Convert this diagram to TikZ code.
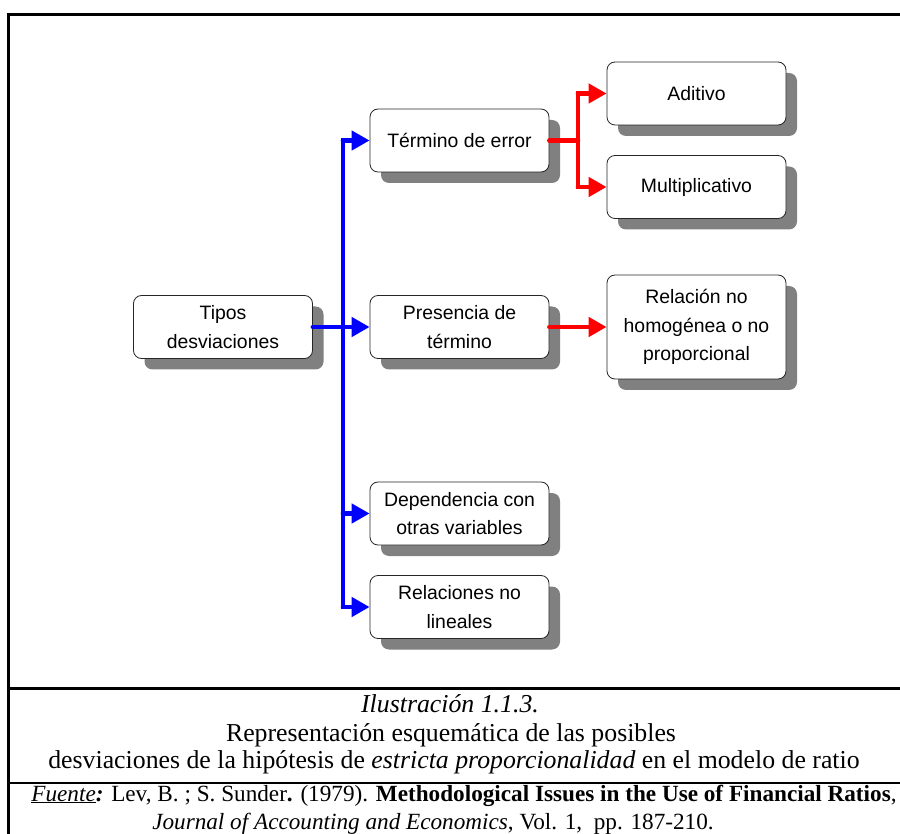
\documentclass[tikz,border=0pt]{standalone}
\usepackage{fontspec}
\setmainfont{Liberation Serif}
\setsansfont{Liberation Sans}
\usetikzlibrary{arrows.meta,shadows}

\begin{document}
\begin{tikzpicture}[x=1pt,y=-1pt,
    caja/.style={draw=black!85,line width=0.8pt,fill=white,rounded corners=8pt,
      minimum width=179pt,minimum height=63pt,inner sep=2pt,align=center,
      font=\sffamily\fontsize{19.4}{28.5}\selectfont,
      drop shadow={shadow xshift=11pt,shadow yshift=-11pt,fill=black!50,opacity=1}},
    azul/.style={draw=blue,line width=4.6pt,line cap=round,-{Triangle[length=18pt,width=19pt]}},
    rojo/.style={draw=red,line width=4.6pt,line cap=round,-{Triangle[length=18pt,width=19pt]}},
    pie/.style={anchor=base,inner sep=0pt,font=\fontsize{25.8}{28}\selectfont}]
    \useasboundingbox (0,0) rectangle (900,834);

    %cornice e righe della didascalia
    \draw[line width=3pt] (8,15) rectangle (906,860);
    \draw[line width=3pt] (8,688) -- (906,688);
    \draw[line width=2pt] (8,783) -- (906,783);

    %caselle
    \node[caja] (tipos) at (223,327) {Tipos\\desviaciones};
    \node[caja] (term) at (459.5,140.5) {Término de error};
    \node[caja] (pres) at (459.5,327) {Presencia de\\término};
    \node[caja] (dep) at (459.5,513.5) {Dependencia con\\otras variables};
    \node[caja] (rell) at (459.5,607) {Relaciones no\\lineales};
    \node[caja] (adit) at (696.5,93.5) {Aditivo};
    \node[caja] (mult) at (696.5,187) {Multiplicativo};
    \node[caja,minimum height=104pt] (relh) at (696.5,327) {Relación no\\homogénea o no\\proporcional};

    %frecce blu
    \coordinate (tr) at (343,327);
    \draw[azul,-,line cap=rect] (tr |- term.west) -- (tr |- rell.west);
    \draw[azul] (tr |- term.west) -- (term.west);
    \draw[azul] (tipos.east) -- (pres.west);
    \draw[azul] (tr |- dep.west) -- (dep.west);
    \draw[azul] (tr |- rell.west) -- (rell.west);

    %frecce rosse
    \coordinate (rj) at (578,140.5);
    \draw[rojo,-] (term.east) -- (rj);
    \draw[rojo,-,line cap=rect] (rj |- adit.west) -- (rj |- mult.west);
    \draw[rojo] (rj |- adit.west) -- (adit.west);
    \draw[rojo] (rj |- mult.west) -- (mult.west);
    \draw[rojo] (pres.east) -- (relh.west);

    %didascalia
    \node[pie] (ilus) at (450,712) {\textit{Ilustración 1.1.3.}};
    \node[pie] (tit1) at (451,741) {Representación esquemática de las posibles};
    \node[pie] (tit2) at (454,768) {desviaciones de la hipótesis de \textit{estricta proporcionalidad} en el modelo de ratio};
    \node[pie,font=\fontsize{23.2}{28}\selectfont] (fuente) at (464,801) {\underline{\textit{Fuente}}\textbf{\textit{:}} Lev, B. ; S. Sunder\textbf{.} (1979). \textbf{Methodological Issues in the Use of Financial Ratios},};
    \node[pie,font=\fontsize{23.2}{28}\selectfont] (revista) at (433,829) {\textit{Journal of Accounting and Economics}, Vol. 1,\ \ pp. 187-210.};
\end{tikzpicture}
\end{document}
